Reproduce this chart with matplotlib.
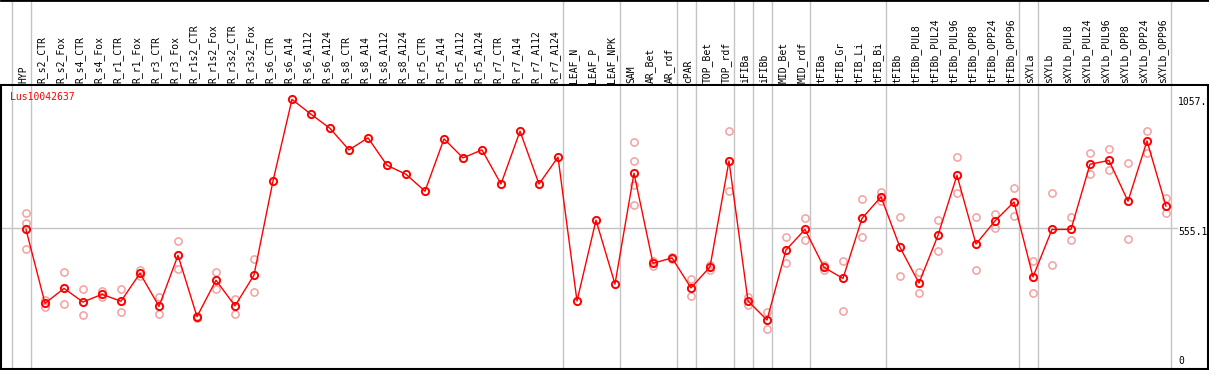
import matplotlib.pyplot as plt

labels = ["HYP", "R_s2_CTR", "R_s2_Fox", "R_s4_CTR", "R_s4_Fox", "R_r1_CTR", "R_r1_Fox",
          "R_r3_CTR", "R_r3_Fox", "R_r1s2_CTR", "R_r1s2_Fox", "R_r3s2_CTR", "R_r3s2_Fox",
          "R_s6_CTR", "R_s6_A14", "R_s6_A112", "R_s6_A124", "R_s8_CTR", "R_s8_A14",
          "R_s8_A112", "R_s8_A124", "R_r5_CTR", "R_r5_A14", "R_r5_A112", "R_r5_A124",
          "R_r7_CTR", "R_r7_A14", "R_r7_A112", "R_r7_A124", "LEAF_N", "LEAF_P", "LEAF_NPK",
          "SAM", "AR_Bet", "AR_rdf", "cPAR", "TOP_Bet", "TOP_rdf", "iFIBa", "iFIBb",
          "MID_Bet", "MID_rdf", "tFIBa", "tFIB_Gr", "tFIB_Li", "tFIB_Bi", "tFIBb",
          "tFIBb_PUL8", "tFIBb_PUL24", "tFIBb_PUL96", "tFIBb_OPP8", "tFIBb_OPP24",
          "tFIBb_OPP96", "sXYLa", "sXYLb", "sXYLb_PUL8", "sXYLb_PUL24", "sXYLb_PUL96",
          "sXYLb_OPP8", "sXYLb_OPP24", "sXYLb_OPP96"]

# sample groups (sizes, in order) -> grey separators
group_sizes = [1, 28, 3, 3, 1, 2, 1, 1, 2, 4, 7, 1, 7]

means = [550, 262, 320, 267, 297, 270, 379, 250, 449, 210, 352, 252, 372,
         739, 1057, 999, 944, 860, 907, 800, 765, 699, 903, 829, 860, 727, 933, 727, 832,
         271, 586, 337, 769, 418, 439, 322, 404, 817, 271, 197, 470, 550,
         402, 359, 593, 677, 480, 341, 527, 761, 493, 583, 657, 365, 550, 550,
         804, 819, 660, 895, 641]

reps = [[613, 575, 474], [276, 249], [384, 258], [317, 215], [310, 287], [317, 227],
        [393, 369], [288, 219], [505, 395], [206, 214], [384, 318], [280, 222], [435, 305],
        [], [], [], [], [], [], [], [], [], [], [], [], [], [], [], [],
        [], [], [], [891, 817, 722, 645], [426, 408], [441, 436], [356, 289], [410, 392],
        [933, 699], [287, 255], [228, 161], [519, 419], [595, 509],
        [411, 391], [427, 231], [667, 521], [696, 661], [597, 367], [384, 302], [586, 466],
        [831, 692], [597, 392], [610, 554], [712, 602], [426, 301], [692, 410], [599, 509],
        [847, 765], [864, 782], [808, 511], [933, 849], [671, 613]]

ytick_vals = [1057, 555.1, 0]
ytick_text = ["1057.", "555.1", "0"]

W, H = 1209, 370
fig = plt.figure(figsize=(W / 100, H / 100), dpi=100)

x0, step = 26, 19
xlim = ((1 - x0) / step, (1208 - x0) / step)
mono = "DejaVu Sans Mono"
grey = "#c4c4c4"
red = "#ff0000"
pale = "#f2a0a0"

# separator positions
seps = [-1 + 0.25]
pos = -1
for g in group_sizes:
    pos += g
    seps.append(pos + 0.25)

# header with sample names
hdr = fig.add_axes([1 / W, (H - 85) / H, 1207 / W, 85 / H])
hdr.set_xlim(xlim)
hdr.set_ylim(0, 85)
for s in seps:
    hdr.axvline(s, color=grey, lw=1)
for i, lab in enumerate(labels):
    hdr.text(i - 0.16, 2, lab, rotation=90, ha="center", va="bottom",
             family=mono, fontsize=7)
hdr.set_xticks([])
hdr.set_yticks([])
for sp in ["left", "right"]:
    hdr.spines[sp].set_visible(False)
hdr.spines["top"].set_linewidth(2)
hdr.spines["bottom"].set_linewidth(1.5)

# main plot
ax = fig.add_axes([1 / W, 1 / H, 1207 / W, 283 / H])
ax.set_xlim(xlim)
ax.set_ylim((370.5 - 369) / 0.2565, (370.5 - 86) / 0.2565)
for s in seps:
    ax.axvline(s, color=grey, lw=1, zorder=1)
ax.plot([xlim[0], (1177 - x0) / step], [555.1, 555.1], color=grey, lw=1, zorder=1)

for i, r in enumerate(reps):
    if r:
        ax.plot([i] * len(r), r, linestyle="none", marker="o", ms=5.2, mfc="none",
                mec=pale, mew=1.1, zorder=2)
xs = list(range(len(means)))
ax.plot(xs, means, color=red, lw=1, marker="o", ms=5.2, mfc="none", mec=red,
        mew=1.4, zorder=3)

ax.text(-0.85, 1065, "Lus10042637", color=red, family=mono, fontsize=7,
        ha="left", va="center")
xr = (1178 - x0) / step
ax.text(xr, ytick_vals[0] - 12, ytick_text[0], family=mono, fontsize=7, ha="left", va="center")
ax.text(xr, ytick_vals[1] - 14, ytick_text[1], family=mono, fontsize=7, ha="left", va="center")
ax.text(xr, 38, ytick_text[2], family=mono, fontsize=7, ha="left", va="center")

ax.set_xticks([])
ax.set_yticks([])
ax.spines["top"].set_visible(False)
ax.spines["left"].set_linewidth(1.5)
ax.spines["bottom"].set_linewidth(1.5)
ax.spines["right"].set_linewidth(1.5)

fig.savefig("out.png", dpi=100)
